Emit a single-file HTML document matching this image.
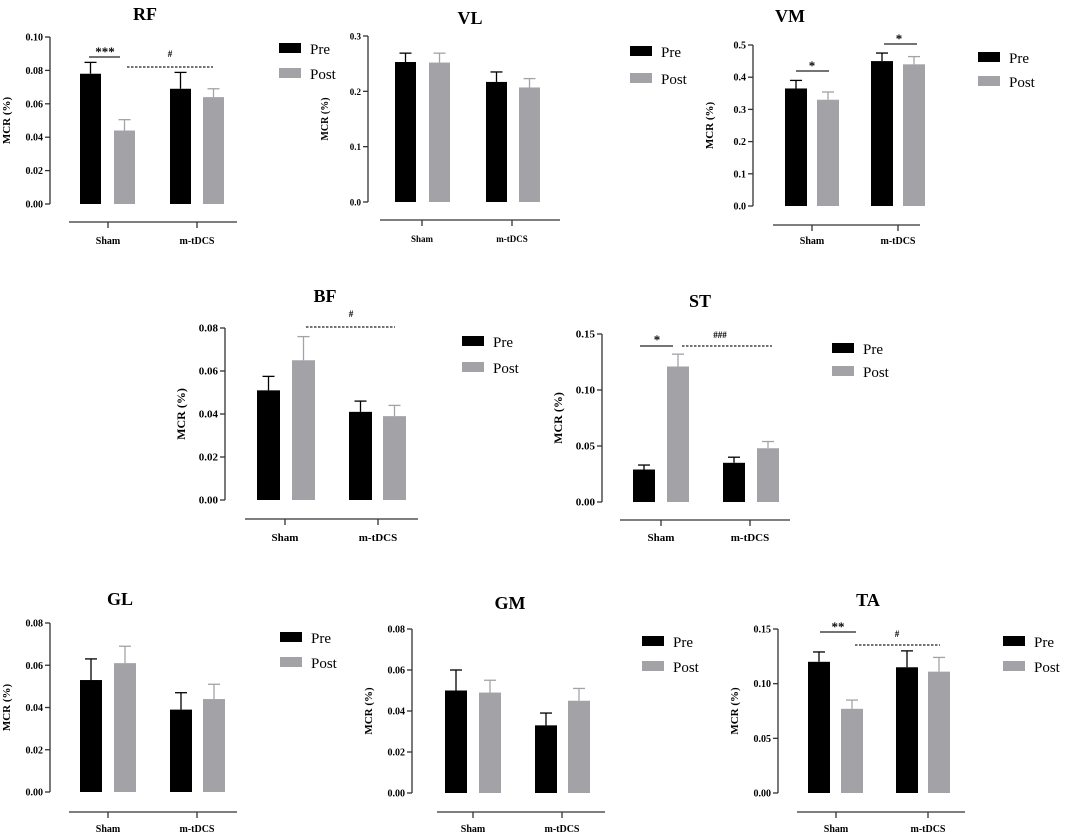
<!DOCTYPE html>
<html><head><meta charset="utf-8"><style>
body{margin:0;background:#fff;}
svg{display:block;font-family:"Liberation Serif",serif;}
</style></head><body>
<svg id="fig" width="1065" height="834" viewBox="0 0 1065 834"></svg>
<script>
const panels = ["RF","VL","VM","BF","ST","GL","GM","TA"];
const groups = ["Sham","m-tDCS"];
const preRF=[0.078,0.069], postRF=[0.044,0.064], preErrRF=[0.0068,0.0098], postErrRF=[0.0065,0.005];
const preVL=[0.253,0.217], postVL=[0.252,0.207], preErrVL=[0.016,0.018], postErrVL=[0.017,0.016];
const preVM=[0.365,0.45], postVM=[0.33,0.44], preErrVM=[0.025,0.025], postErrVM=[0.024,0.024];
const preBF=[0.051,0.041], postBF=[0.065,0.039], preErrBF=[0.0065,0.005], postErrBF=[0.011,0.005];
const preST=[0.029,0.035], postST=[0.121,0.048], preErrST=[0.004,0.005], postErrST=[0.011,0.006];
const preGL=[0.053,0.039], postGL=[0.061,0.044], preErrGL=[0.010,0.008], postErrGL=[0.008,0.007];
const preGM=[0.050,0.033], postGM=[0.049,0.045], preErrGM=[0.010,0.006], postErrGM=[0.006,0.006];
const preTA=[0.120,0.115], postTA=[0.077,0.111], preErrTA=[0.009,0.015], postErrTA=[0.008,0.013];
const ticksRF=["0.00","0.02","0.04","0.06","0.08","0.10"];
const ticksVL=["0.0","0.1","0.2","0.3"];
const ticksVM=["0.0","0.1","0.2","0.3","0.4","0.5"];
const ticksBF=["0.00","0.02","0.04","0.06","0.08"];
const ticksST=["0.00","0.05","0.10","0.15"];
const ticksGL=["0.00","0.02","0.04","0.06","0.08"];
const ticksGM=["0.00","0.02","0.04","0.06","0.08"];
const ticksTA=["0.00","0.05","0.10","0.15"];
const D={RF:[preRF,postRF,preErrRF,postErrRF,ticksRF],VL:[preVL,postVL,preErrVL,postErrVL,ticksVL],
VM:[preVM,postVM,preErrVM,postErrVM,ticksVM],BF:[preBF,postBF,preErrBF,postErrBF,ticksBF],
ST:[preST,postST,preErrST,postErrST,ticksST],GL:[preGL,postGL,preErrGL,postErrGL,ticksGL],
GM:[preGM,postGM,preErrGM,postErrGM,ticksGM],TA:[preTA,postTA,preErrTA,postErrTA,ticksTA]};
// layout (pixels)
const L={
RF:{ax:50,y0:204,y1:37,bx:[80,114,170,203],bw:21,xl:[69,237],xly:222,xt:[108,197],lab:240,tx:145,ty:6,lg:[279,43,68],fs:11},
VL:{ax:368,y0:202,y1:36,bx:[395,429,486,519],bw:21,xl:[380,560],xly:220,xt:[422,512],lab:238,tx:470,ty:10,lg:[630,46,73],fs:10},
VM:{ax:753,y0:206,y1:45,bx:[785,817,871,903],bw:22,xl:[773,920],xly:225,xt:[812,898],lab:240,tx:790,ty:8,lg:[978,52,76],fs:11},
BF:{ax:225,y0:500,y1:328,bx:[257,292,349,383],bw:23,xl:[245,418],xly:519,xt:[285,378],lab:537,tx:325,ty:288,lg:[462,336,362],fs:12},
ST:{ax:602,y0:502,y1:334,bx:[633,667,723,757],bw:22,xl:[620,790],xly:520,xt:[661,750],lab:537,tx:700,ty:293,lg:[832,343,366],fs:12},
GL:{ax:50,y0:792,y1:623,bx:[80,114,170,203],bw:22,xl:[69,237],xly:812,xt:[108,197],lab:828,tx:120,ty:591,lg:[280,632,657],fs:11},
GM:{ax:412,y0:793,y1:629,bx:[445,479,535,568],bw:22,xl:[437,605],xly:812,xt:[473,562],lab:828,tx:510,ty:595,lg:[642,636,661],fs:11},
TA:{ax:778,y0:793,y1:629,bx:[808,841,896,928],bw:22,xl:[797,965],xly:812,xt:[836,928],lab:828,tx:868,ty:592,lg:[1003,636,661],fs:11}};
const SIG={RF:[["line",89,120,57,"***",105,52],["dash",127,213,67,"#",170,57]],
VM:[["line",796,829,71,"*",812,66],["line",884,917,44,"*",899,39]],
BF:[["dash",306,395,327,"#",351,317]],
ST:[["line",640,673,346,"*",657,340],["dash",682,772,346,"###",720,338]],
TA:[["line",820,856,632,"**",838,627],["dash",855,940,645,"#",897,637]]};
const NS="http://www.w3.org/2000/svg",svg=document.getElementById("fig");
function mk(t,a,p,txt){const e=document.createElementNS(NS,t);for(const k in a)e.setAttribute(k,a[k]);if(txt!==undefined)e.textContent=txt;(p||svg).appendChild(e);return e;}
const GRAY="#a3a3a7";
panels.forEach(p=>{
 const [pre,post,pe,qe,ticks]=D[p],c=L[p];
 const g=mk("g",{});
 
 
 const ymax=parseFloat(ticks[ticks.length-1]);
 const Y=v=>c.y0-(v/ymax)*(c.y0-c.y1);
 const t=mk("text",{x:c.tx,y:c.ty+14,"text-anchor":"middle","font-size":18,"font-weight":"bold"},g,p);
 
 
 const ya=mk("line",{x1:c.ax,x2:c.ax,y1:c.y1,y2:c.y0,stroke:"#333","stroke-width":1.3},g);
 
 
 ticks.forEach(tk=>{const yy=Y(parseFloat(tk));
  mk("line",{x1:c.ax-5,x2:c.ax,y1:yy,y2:yy,stroke:"#333","stroke-width":1.3},g);
  const tl=mk("text",{x:c.ax-7,y:yy+3.5,"text-anchor":"end","font-size":c.fs-1,"font-weight":"bold"},g,tk);
  
  });
 const yt=mk("text",{transform:`translate(${c.ax-40},${(c.y0+c.y1)/2}) rotate(-90)`,"text-anchor":"middle","font-size":c.fs,"font-weight":"bold"},g,"MCR (%)");
 
 
 const xa=mk("line",{x1:c.xl[0],x2:c.xl[1],y1:c.xly,y2:c.xly,stroke:"#333","stroke-width":1.3},g);
 
 
 groups.forEach((gn,i)=>{mk("line",{x1:c.xt[i],x2:c.xt[i],y1:c.xly,y2:c.xly+6,stroke:"#333","stroke-width":1.3},g);
  const xl=mk("text",{x:c.xt[i],y:c.lab+4,"text-anchor":"middle","font-size":c.fs-1,"font-weight":"bold"},g,gn);
  
  });
 [[pre,pe,"#000"],[post,qe,GRAY]].forEach(([vals,errs,col],s)=>{
  vals.forEach((v,i)=>{const x=c.bx[i*2+s],top=Y(v),et=Y(v+errs[i]),cx=x+c.bw/2;
   mk("line",{x1:cx,x2:cx,y1:top,y2:et,stroke:col,"stroke-width":1.3},g);
   mk("line",{x1:cx-6,x2:cx+6,y1:et,y2:et,stroke:col,"stroke-width":1.3},g);
   const r=mk("rect",{x:x,y:top,width:c.bw,height:c.y0-top,fill:col},g);
   
   });});
 ["Pre","Post"].forEach((n,i)=>{const yy=c.lg[1+i];
  const lr=mk("rect",{x:c.lg[0],y:yy,width:22,height:10,fill:i?GRAY:"#000"},g);
  
  
  const lt=mk("text",{x:c.lg[0]+31,y:yy+11,"font-size":15},g,n);
  
  });
 (SIG[p]||[]).forEach(s=>{
  const l=mk("line",{x1:s[1],x2:s[2],y1:s[3],y2:s[3],stroke:"#222","stroke-width":1.2},g);
  if(s[0]=="dash")l.setAttribute("stroke-dasharray","2.5,1.5");
  
  
  const st=mk("text",{x:s[5],y:s[6]+(s[4].startsWith("#")?0:4),"text-anchor":"middle","font-size":s[4].startsWith("#")?9:13,"font-weight":"bold"},g,s[4]);
  
  });
});
</script>
</body></html>
